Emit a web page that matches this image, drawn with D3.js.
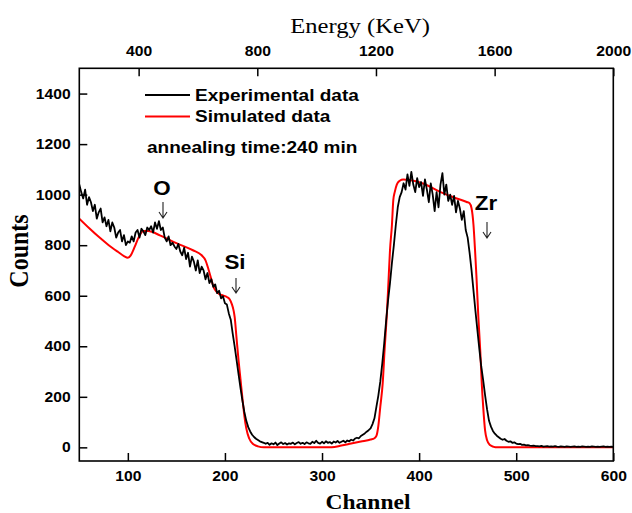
<!DOCTYPE html>
<html>
<head>
<meta charset="utf-8">
<script src="https://cdn.jsdelivr.net/npm/d3@7"></script>
<style>
  html, body { margin: 0; padding: 0; background: #fff; }
  svg { display: block; }
</style>
</head>
<body>
<div id="chart"></div>
<script>
// RBS spectrum: experimental counts vs simulated fit
const expChannel = [
  50,52,54,56,58,60,62,64,66,68,70,72,74,76,78,80,82,84,86,88,90,92,94,96,98,100,
  102,104,106,108,110,112,114,116,118,120,122,124,126,128,130,
  132,134,136,138,140,142,144,146,148,150,
  152,154,156,158,160,162,164,166,168,170,172,174,176,178,180,
  182,184,186,188,190,192,194,196,198,200,202,204,206,208,210,212,
  214,216,218,220,222,224,226,228,230,232,234,236,238,240,
  242,244,246,248,250,252,254,256,258,260,262,264,266,268,270,272,274,276,278,280,
  282,284,286,288,290,292,294,296,298,300,302,304,306,308,310,
  312,314,316,318,320,322,324,326,328,330,332,334,336,338,340,342,344,346,348,350,352,354,356,
  358,360,362,364,366,368,370,372,374,376,378,380,382,384,
  386,388,390,392,394,396,398,400,402,404,406,408,410,412,414,416,418,420,422,424,426,428,430,
  432,434,436,438,440,442,444,446,448,450,
  452,454,456,458,460,462,464,466,468,470,472,474,476,478,480,
  482,484,486,488,490,492,494,496,498,500,502,504,506,508,510,512,514,516,518,520,
  522,524,526,528,530,532,534,536,538,540,542,544,546,548,550,552,554,556,558,560,
  562,564,566,568,570,572,574,576,578,580,582,584,586,588,590,592,594,596,598,600
];
const expCounts = [
  1040,1010,985,1020,960,990,970,935,960,905,930,945,890,910,875,900,855,890,870,830,850,860,815,840,800,815,
  810,835,815,850,860,830,865,855,840,870,860,875,850,890,865,
  895,860,870,830,815,835,800,810,795,785,
  805,775,760,790,745,770,715,755,735,700,740,690,715,700,665,
  690,650,665,635,645,610,620,590,598,570,565,530,505,450,400,345,
  290,235,185,140,105,80,63,50,41,34,29,24,21,18,
  14,18,10,16,12,19,9,15,20,13,17,11,16,14,19,12,17,21,14,18,
  13,20,16,14,22,17,26,18,15,22,16,24,18,21,15,
  23,19,25,18,22,26,20,27,24,30,27,35,38,36,45,50,55,62,68,75,92,115,160,
  205,260,330,410,500,580,650,730,800,880,950,990,1010,1045,
  1020,1080,1035,1090,1040,1010,1065,1030,1050,995,1060,1020,970,1045,1000,935,1010,950,1040,1085,1000,1040,975,
  1000,960,995,930,975,945,900,935,860,830,
  770,700,620,540,465,390,320,265,205,150,105,82,65,54,46,
  40,34,30,33,26,22,24,18,20,15,13,14,10,11,8,9,7,6,7,5,
  5,4,6,3,4,5,3,4,3,5,3,2,4,3,2,4,3,2,3,4,
  2,3,2,4,3,2,3,2,4,3,2,3,2,3,4,2,3,2,3,2
];

const simChannel = [
  50,60,70,80,90,96,100,103,107,111,116,121,133,150,167,176,180,183,186,188,191,194,198,202,205,207,209,
  210,212,214,216,218,220,222,225,229,234,240,310,320,330,340,350,354,356,358,360,362.5,364.5,366.6,368,
  370,372,373.4,375,377,380,383.7,390,404,421.5,438.7,449,452,454,456,457.6,459,461,463,464.5,466,467.9,
  470,473,477,480,600
];
const simCounts = [
  905,868,833,801,773,757,750,760,793,830,856,856,839,808,780,760,740,705,665,637,617,607,601,595,585,568,540,
  516,430,345,270,195,125,75,35,13,4,0,0,7,15,23,31,36,45,85,160,254,390,516,620,
  780,880,978,1012,1040,1055,1060,1058,1044,1011,985,971,966,946,880,780,680,516,380,254,160,68,
  28,9,2,0,0
];

const channelTicks = [100, 200, 300, 400, 500, 600];
const energyTicks = [400, 800, 1200, 1600, 2000];
const countTicks = [0, 200, 400, 600, 800, 1000, 1200, 1400];

const legendItems = [
  { label: "Experimental data", color: "#000000" },
  { label: "Simulated data", color: "#ff0000" }
];
const noteText = "annealing time:240 min";
const peakLabels = [
  { label: "O", channel: 136 },
  { label: "Si", channel: 211 },
  { label: "Zr", channel: 467 }
];

const W = 632, H = 513;
const K = 1.12; // horizontal glyph stretch of the figure's lettering
const sans = "'Liberation Sans', Arial, sans-serif";
const serif = "'Liberation Serif', 'Times New Roman', serif";

const svg = d3.select("#chart").append("svg")
  .attr("width", W).attr("height", H)
  .style("background", "#fff");

const x = d3.scaleLinear().domain([50, 600]).range([79.3, 613.3]);
const xE = d3.scaleLinear().domain([200, 2000]).range([79.3, 613.3]);
const y = d3.scaleLinear().domain([-54, 1500]).range([461, 68.3]);

const [x0, x1] = x.range();
const [yb, yt] = y.range();

// data lines, clipped to the frame
svg.append("clipPath").attr("id", "plotclip")
  .append("rect").attr("x", x0).attr("y", yt).attr("width", x1 - x0).attr("height", yb - yt);

const expData = expChannel.map((c, i) => [c, expCounts[i]]);
const simData = simChannel.map((c, i) => [c, simCounts[i]]);

const plot = svg.append("g").attr("clip-path", "url(#plotclip)");

plot.append("path")
  .datum(simData)
  .attr("fill", "none")
  .attr("stroke", "#ff0000")
  .attr("stroke-width", 2)
  .attr("stroke-linejoin", "round")
  .attr("d", d3.line().x(d => x(d[0])).y(d => y(d[1])).curve(d3.curveMonotoneX));

plot.append("path")
  .datum(expData)
  .attr("fill", "none")
  .attr("stroke", "#000")
  .attr("stroke-width", 1.8)
  .attr("stroke-linejoin", "round")
  .attr("d", d3.line().x(d => x(d[0])).y(d => y(d[1])));

// axes
function styleAxis(g) {
  g.select(".domain").remove();
  g.selectAll(".tick line").attr("stroke", "#000").attr("stroke-width", 1.5);
  g.selectAll(".tick text")
    .attr("fill", "#000")
    .style("font-family", sans)
    .style("font-weight", "bold")
    .style("font-size", "14px");
}

svg.append("g")
  .attr("transform", `translate(0,${yb})`)
  .call(d3.axisBottom(x).tickValues(channelTicks).tickFormat(d3.format("d"))
    .tickSizeInner(-8).tickSizeOuter(0).tickPadding(10))
  .call(styleAxis)
  .call(g => g.selectAll(".tick text").attr("transform", `scale(${K},1)`));

svg.append("g")
  .attr("transform", `translate(0,${yt})`)
  .call(d3.axisTop(xE).tickValues(energyTicks).tickFormat(d3.format("d"))
    .tickSizeInner(-8).tickSizeOuter(0).tickPadding(12))
  .call(styleAxis)
  .call(g => g.selectAll(".tick text").attr("transform", `scale(${K},1)`));

svg.append("g")
  .attr("transform", `translate(${x0},0)`)
  .call(d3.axisLeft(y).tickValues(countTicks).tickFormat(d3.format("d"))
    .tickSizeInner(-8).tickSizeOuter(0).tickPadding(8))
  .call(styleAxis)
  .call(g => g.selectAll(".tick text")
    .attr("x", -8.6 / K)
    .attr("transform", `scale(${K},1)`));

// frame
svg.append("rect")
  .attr("x", x0).attr("y", yt)
  .attr("width", x1 - x0).attr("height", yb - yt)
  .attr("fill", "none").attr("stroke", "#000").attr("stroke-width", 1.6);

// text helper with the horizontal stretch
function label(px, py, str, o) {
  return svg.append("text")
    .attr("transform", `translate(${px},${py}) ${o.rotate ? "rotate(-90) scale(1," + K + ")" : "scale(" + K + ",1)"}`)
    .attr("text-anchor", o.anchor || "start")
    .attr("dominant-baseline", o.baseline || "auto")
    .style("font-family", o.family || sans)
    .style("font-weight", o.weight || "bold")
    .style("font-size", o.size + "px")
    .attr("fill", "#000")
    .text(str);
}

// axis titles
label(360, 33, "Energy (KeV)", { anchor: "middle", family: serif, weight: "normal", size: 22 });
label(368, 509, "Channel", { anchor: "middle", family: serif, size: 21 });
label(28, 251, "Counts", { anchor: "middle", family: serif, size: 24, rotate: true });

// legend
legendItems.forEach((d, i) => {
  const ly = 95 + i * 21.5;
  svg.append("line")
    .attr("x1", 145).attr("x2", 190).attr("y1", ly).attr("y2", ly)
    .attr("stroke", d.color).attr("stroke-width", 2);
  label(195, ly, d.label, { baseline: "central", size: 17 });
});
label(147, 147, noteText, { baseline: "central", size: 17 });

// element edge markers
const markerY = { O: [188, 202, 218], Si: [262, 278, 293], Zr: [203, 222, 238] };
const markerX = { O: 163, Si: 236, Zr: 487 };
peakLabels.forEach(p => {
  const px = markerX[p.label];
  const [ty, a0, a1] = markerY[p.label];
  label(px - 1, ty, p.label, { anchor: "middle", baseline: "central", size: 20 });
  svg.append("path")
    .attr("d", `M${px},${a0}V${a1}M${px - 4},${a1 - 6}L${px},${a1}L${px + 4},${a1 - 6}`)
    .attr("fill", "none").attr("stroke", "#222").attr("stroke-width", 1.1);
});
</script>
</body>
</html>
